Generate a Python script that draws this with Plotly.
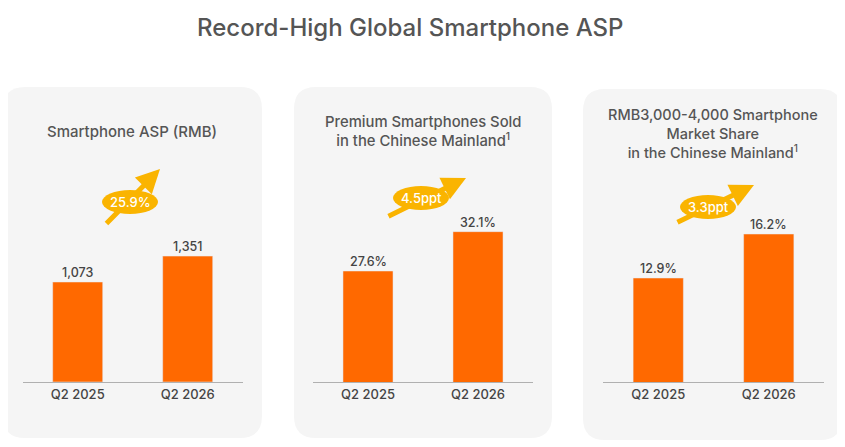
import plotly.graph_objects as go

# the page body has an 8px margin, so the figure is drawn 8px in and down
OX, OY = 8, 8
W, H = 845 - OX, 447 - OY

categories = ["Q2 2025", "Q2 2026"]
asp_rmb = [1073, 1351]
premium_share = [27.6, 32.1]
mid_share = [12.9, 16.2]
growth_labels = ["25.9%", "4.5ppt", "3.3ppt"]
panel_titles = [
    "Smartphone ASP (RMB)",
    "Premium Smartphones Sold<br>in the Chinese Mainland<sup>1</sup>",
    "RMB3,000-4,000 Smartphone<br>Market Share<br>in the Chinese Mainland<sup>1</sup>",
]

ORANGE = "#ff6900"
YELLOW = "#fab400"
PANEL = "#f5f5f5"
FONT = "Inter"


def px_x(v):
    return (v - OX) / W


def px_y(v):
    return 1 - (v - OY) / H


def rounded_rect(x0, y0, x1, y1, r=22):
    # pixel box -> path in paper coords
    rx, ry = r / W, r / H
    a, b, c, d = px_x(x0), px_y(y1), px_x(x1), px_y(y0)
    return (f"M{a+rx},{b} L{c-rx},{b} Q{c},{b} {c},{b+ry} L{c},{d-ry} "
            f"Q{c},{d} {c-rx},{d} L{a+rx},{d} Q{a},{d} {a},{d-ry} "
            f"L{a},{b+ry} Q{a},{b} {a+rx},{b} Z")


def fmt(v, i):
    return f"{v:,}" if i == 0 else f"{v:.1f}%"


fig = go.Figure()

series = [asp_rmb, premium_share, mid_share]
x_domains = [(22.7, 242.7), (313, 533), (603, 824)]
y_ranges = [(0, 2382), (14.9, 40.3), (5.1, 21.75)]
panels = [(3, 87, 262, 438), (294, 87, 552, 438), (583, 89, 842, 440)]
title_y = [131, 132, 133]
title_size = [15, 14.8, 14.5]
# arrows: tail (x,y), head (x,y), badge centre, in pixels
arrows = [((105, 225), (160, 169), (130, 202)),
          ((387, 217), (466, 178), (421, 198)),
          ((676, 223), (754, 185), (708, 207))]

shapes = []
annotations = []
for i in range(3):
    n = "" if i == 0 else str(i + 1)
    fig.add_trace(go.Bar(
        x=categories, y=series[i], xaxis="x" + n, yaxis="y" + n,
        marker_color=ORANGE, width=0.455,
        showlegend=False, hoverinfo="skip",
    ))
    fig.update_layout(**{
        "xaxis" + n: dict(domain=[px_x(x_domains[i][0]), px_x(x_domains[i][1])],
                          anchor="y" + n, showline=True, linecolor="#b0b0b0",
                          linewidth=1, ticks="", showgrid=False,
                          tickfont=dict(size=13, color="#444444", family=FONT,
                                        weight=500)),
        "yaxis" + n: dict(domain=[px_y(382), px_y(160)], anchor="x" + n,
                          range=list(y_ranges[i]), visible=False),
    })
    for cat, val in zip(categories, series[i]):
        annotations.append(dict(text=fmt(val, i), x=cat, y=val, xref="x" + n,
                                yref="y" + n, xanchor="center", yanchor="bottom",
                                showarrow=False,
                                font=dict(size=12.5, color="#444444", family=FONT,
                                          weight=500)))

    p = panels[i]
    shapes.append(dict(type="path", xref="paper", yref="paper", layer="below",
                       path=rounded_rect(*p), fillcolor=PANEL, line_width=0))
    annotations.append(dict(text=panel_titles[i], xref="paper", yref="paper",
                            x=px_x((p[0] + p[2]) / 2), y=px_y(title_y[i]),
                            xanchor="center", yanchor="middle", showarrow=False,
                            font=dict(size=title_size[i], color="#555555",
                                      family=FONT, weight=500)))

    (tx, ty), (hx, hy), (cx, cy) = arrows[i]
    annotations.append(dict(text="", xref="paper", yref="paper",
                            x=px_x(hx), y=px_y(hy), ax=tx - hx, ay=ty - hy,
                            showarrow=True, arrowhead=2, arrowsize=0.95,
                            arrowwidth=5, arrowcolor=YELLOW, standoff=0))
    shapes.append(dict(type="circle", xref="paper", yref="paper",
                       x0=px_x(cx - 28), x1=px_x(cx + 28),
                       y0=px_y(cy + 12), y1=px_y(cy - 12),
                       fillcolor=YELLOW, line_width=0))
    annotations.append(dict(text=growth_labels[i], xref="paper", yref="paper",
                            x=px_x(cx), y=px_y(cy), xanchor="center",
                            yanchor="middle", showarrow=False,
                            font=dict(size=13, color="white", family=FONT,
                                      weight=500)))

annotations.append(dict(text="Record-High Global Smartphone ASP", xref="paper",
                        yref="paper", x=px_x(410), y=px_y(28), xanchor="center",
                        yanchor="middle", showarrow=False,
                        font=dict(size=24, color="#555555", family=FONT,
                                  weight=500)))

fig.update_layout(width=W, height=H, margin=dict(l=0, r=0, t=0, b=0),
                  paper_bgcolor="white", plot_bgcolor="rgba(0,0,0,0)",
                  shapes=shapes, annotations=annotations, bargap=0.545)

fig.write_html("out.html")
